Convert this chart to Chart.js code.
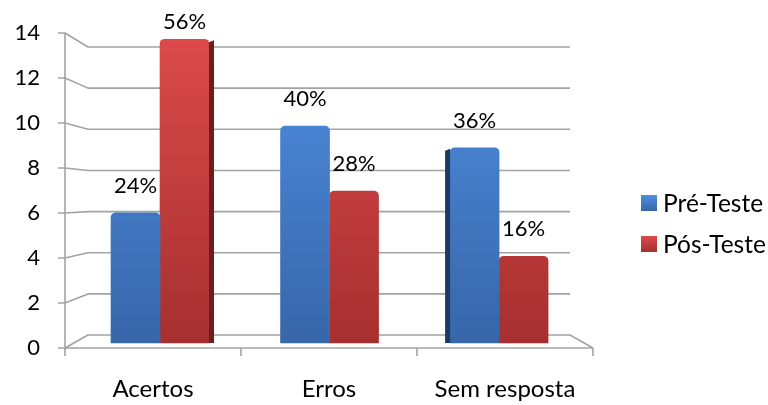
<!DOCTYPE html>
<html>
<head>
<meta charset="utf-8">
<script src="https://cdn.jsdelivr.net/npm/chart.js@4"></script>
<style>
  html, body { margin: 0; padding: 0; background: #fff; }
  #wrap { width: 768px; height: 405px; }
</style>
</head>
<body>
<div id="wrap"><canvas id="grafico"></canvas></div>
<script>
// ===== DADOS =====
const categorias = ['Acertos', 'Erros', 'Sem resposta'];
const series = ['Pré-Teste', 'Pós-Teste'];
const preTeste = [6, 10, 9];
const posTeste = [14, 7, 4];
const preRotulos = ['24%', '40%', '36%'];
const posRotulos = ['56%', '28%', '16%'];
const yTicks = [0, 2, 4, 6, 8, 10, 12, 14];

const FONTE = 'Lato';
const azul = ['#4f8fe2', '#3765a8', '#1f3a60'];
const vermelho = ['#dd4a4a', '#a52f2f', '#6e1c1c'];

// pontos {x: índice da categoria, y: valor}
const pontos = arr => arr.map((v, i) => ({ x: i, y: v }));

function gradiente(cores) {
  return ctx => {
    const c = ctx.chart, a = c.chartArea;
    if (!a) return cores[0];
    const g = c.ctx.createLinearGradient(0, a.top, 0, a.bottom);
    g.addColorStop(0, cores[0]);
    g.addColorStop(1, cores[1]);
    return g;
  };
}

// Grade em "3D" (parede de fundo + piso)
const gradeFundo = {
  id: 'gradeFundo',
  beforeDatasetsDraw(chart) {
    const { ctx, chartArea: a, scales } = chart;
    const yF = scales.y, yB = scales.yFundo;
    const prof = 23;
    ctx.save();
    ctx.strokeStyle = '#a3a3a3';
    ctx.lineWidth = 1.6;
    ctx.lineJoin = 'round';
    yTicks.forEach(v => {
      const f = yF.getPixelForValue(v), b = yB.getPixelForValue(v);
      ctx.beginPath();
      ctx.moveTo(a.left - 7, f);
      ctx.lineTo(a.left, f);
      ctx.lineTo(a.left + prof, b);
      ctx.lineTo(a.right - prof, b);
      if (v === 0) ctx.lineTo(a.right, f);
      ctx.stroke();
    });
    // eixo vertical e piso frontal
    ctx.beginPath();
    ctx.moveTo(a.left, a.top);
    ctx.lineTo(a.left, a.bottom);
    ctx.lineTo(a.right, a.bottom);
    ctx.stroke();
    // marcas do eixo x
    const n = categorias.length, w = (a.right - a.left) / n;
    for (let i = 0; i <= n; i++) {
      const px = a.left + i * w;
      ctx.beginPath();
      ctx.moveTo(px, a.bottom);
      ctx.lineTo(px, a.bottom + 8);
      ctx.stroke();
    }
    ctx.restore();
  }
};

// Faces laterais das barras + rótulos de porcentagem
const rotulos = {
  id: 'rotulos',
  afterDatasetsDraw(chart) {
    const { ctx, chartArea: a } = chart;
    const meio = (a.left + a.right) / 2;
    const textos = [preRotulos, posRotulos];
    const cores = [azul, vermelho];
    ctx.save();
    chart.data.datasets.forEach((ds, d) => {
      chart.getDatasetMeta(d).data.forEach(el => {
        const esq = el.x - el.width / 2, dir = el.x + el.width / 2;
        let x0 = null;
        if (d === 1 && el.x < meio - 60) x0 = dir;
        if (d === 0 && el.x > meio + 60) x0 = esq - 5;
        if (x0 === null) return;
        ctx.fillStyle = cores[d][2];
        ctx.beginPath();
        ctx.moveTo(x0, el.y + 3);
        ctx.lineTo(x0 + 5, el.y + 1);
        ctx.lineTo(x0 + 5, el.base);
        ctx.lineTo(x0, el.base);
        ctx.closePath();
        ctx.fill();
      });
    });
    ctx.font = '22px ' + FONTE;
    ctx.fillStyle = '#000';
    ctx.textAlign = 'center';
    ctx.textBaseline = 'middle';
    chart.data.datasets.forEach((ds, d) => {
      chart.getDatasetMeta(d).data.forEach((el, i) => {
        // rótulo fica dentro da área (como no Excel)
        ctx.fillText(textos[d][i], el.x, Math.max(el.y - 27, a.top - 11));
      });
    });
    ctx.restore();
  }
};

// Legenda
const legenda = {
  id: 'legenda',
  afterDraw(chart) {
    const { ctx, chartArea: a } = chart;
    const cores = [azul, vermelho];
    ctx.save();
    ctx.font = '24.5px ' + FONTE;
    ctx.textBaseline = 'middle';
    series.forEach((s, i) => {
      const x = a.right + 48, y = a.top + 170 + i * 41;
      const g = ctx.createLinearGradient(0, y - 8, 0, y + 8);
      g.addColorStop(0, cores[i][0]);
      g.addColorStop(1, cores[i][1]);
      ctx.fillStyle = g;
      ctx.fillRect(x, y - 8, 16, 16);
      ctx.fillStyle = '#000';
      ctx.fillText(s, x + 22, y + 1);
    });
    ctx.restore();
  }
};

new Chart(document.getElementById('grafico'), {
  type: 'bar',
  data: {
    labels: categorias,
    datasets: [
      { label: series[0], data: pontos(preTeste), backgroundColor: gradiente(azul),
        xAxisID: 'xBarra', yAxisID: 'yBarra',
        borderRadius: { topLeft: 5, topRight: 5 }, borderSkipped: 'start' },
      { label: series[1], data: pontos(posTeste), backgroundColor: gradiente(vermelho),
        xAxisID: 'xBarra', yAxisID: 'yBarra',
        borderRadius: { topLeft: 5, topRight: 5 }, borderSkipped: 'start' }
    ]
  },
  options: {
    responsive: true,
    maintainAspectRatio: false,
    animation: false,
    barThickness: 49,
    layout: { padding: { left: 15, right: 175, top: 33, bottom: 0 } },
    plugins: { legend: { display: false }, tooltip: { enabled: false } },
    scales: {
      x: {
        type: 'category',
        grid: { display: false, drawTicks: false }, border: { display: false },
        ticks: { color: '#000', font: { family: FONTE, size: 24 }, padding: 27 },
        afterFit: s => { s.height = 57; s.paddingLeft = 0; s.paddingRight = 0; }
      },
      xBarra: { type: 'linear', display: false, offset: false, min: -0.5605, max: 2.554 },
      y: {
        min: 0, max: 14,
        grid: { display: false, drawTicks: false }, border: { display: false },
        ticks: { stepSize: 2, color: '#000', font: { family: FONTE, size: 22 }, padding: 25 },
        afterFit: s => { s.width = 50; s.paddingTop = 0; s.paddingBottom = 0; }
      },
      yBarra: { display: false, min: -0.23, max: 14.286 },
      yFundo: { display: false, min: -0.63, max: 14.68 }
    }
  },
  plugins: [gradeFundo, rotulos, legenda]
});
</script>
</body>
</html>
